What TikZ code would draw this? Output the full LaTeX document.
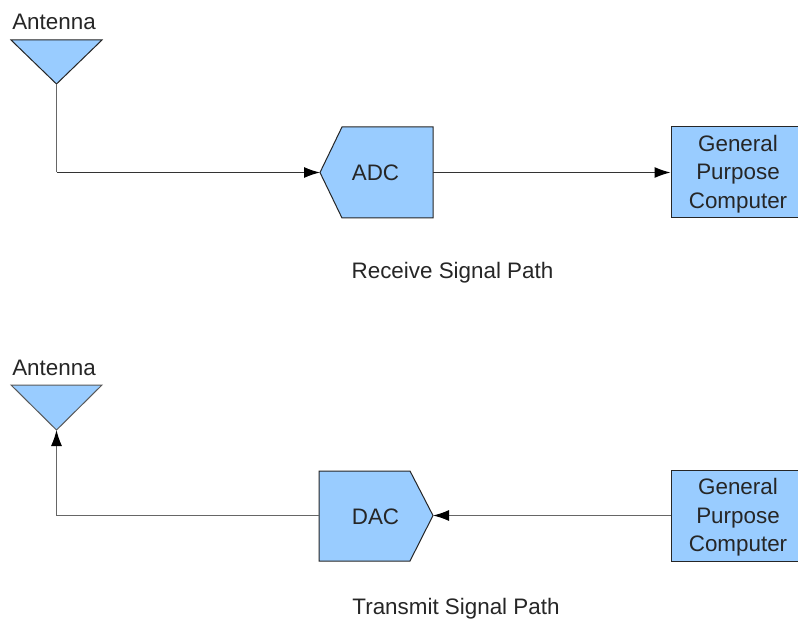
\documentclass[tikz,border=0pt]{standalone}
\usepackage{fontspec}
\setmainfont{Liberation Sans}
\usetikzlibrary{arrows.meta}
\definecolor{fillblue}{HTML}{99CCFF}
\tikzset{
 x=1pt,y=-1pt,
 shapefill/.style={draw=black!85,fill=fillblue,line width=1pt,line join=miter},
 boxfill/.style={shapefill,minimum width=127pt,minimum height=91pt,inner sep=0pt},
 lbl/.style={font=\fontsize{22.4}{28.5}\selectfont,text=black!85,align=center,inner sep=0pt},
 conn/.style={draw=black!60,line width=1.1pt},
 conndark/.style={draw=black!80,line width=1.1pt},
 tip/.style={-{Latex[length=16pt,width=11pt,black]}}
}
\begin{document}
\begin{tikzpicture}
\useasboundingbox (0,0) rectangle (798,620);
\fill[white] (0,0) rectangle (798,620);
\coordinate (ant1tip) at (56.5,84);
\coordinate (ant2tip) at (56.5,430);
\coordinate (bend1) at (56.5,172.5);
\coordinate (bend2) at (56.5,515.5);
\draw[shapefill] (11,40) -- (102,40) -- (ant1tip) -- cycle;
\draw[shapefill,draw=black!65] (11,385) -- (102,385) -- (ant2tip) -- cycle;
\coordinate (adcin) at (320,172.5);
\coordinate (adcout) at (433,172.5);
\coordinate (dacin) at (319,515.5);
\coordinate (dacout) at (433,515.5);
\draw[shapefill] (342,127) -- (433,127) -- (adcout) -- (433,218) -- (342,218) -- (adcin) -- cycle;
\draw[shapefill] (319,471) -- (410,471) -- (dacout) -- (410,561) -- (319,561) -- (dacin) -- cycle;
\node[lbl] (adc) at (375.5,173) {ADC};
\node[lbl] (dac) at (375.5,516.5) {DAC};
\node[lbl] (a1) at (54,22) {Antenna};
\node[lbl] (a2) at (54,368) {Antenna};
\node[boxfill] (g1) at (734.5,172.5) {};
\node[boxfill] (g2) at (734.5,515.5) {};
\node[lbl] (g1t) at (738,174) {General\\Purpose\\Computer};
\node[lbl] (g2t) at (738,517.5) {General\\Purpose\\Computer};
\node[lbl] (r) at (452.5,272.5) {Receive Signal Path};
\node[lbl] (t) at (456,608.5) {Transmit Signal Path};
\draw[conn] (ant1tip) -- (bend1);
\draw[conndark,tip] (bend1) -- (adcin);
\draw[conndark,tip] (adcout) -- (g1.west);
\draw[conn,tip] (g2.west) -- (dacout);
\draw[conn] (dacin) -- (bend2);
\draw[conn,tip] (bend2) -- (ant2tip);
\end{tikzpicture}
\end{document}
